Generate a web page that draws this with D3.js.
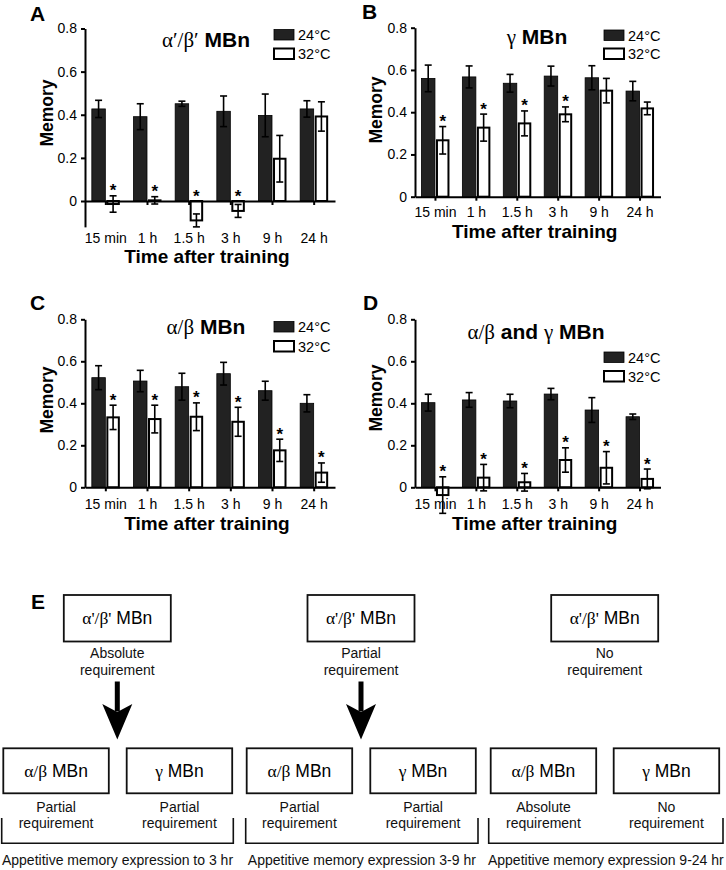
<!DOCTYPE html>
<html><head><meta charset="utf-8">
<script src="https://cdn.jsdelivr.net/npm/d3@7"></script>
<style>body{margin:0;background:#fff} svg{display:block}</style>
</head><body>
<svg id="fig" width="726" height="870"></svg>
<script>
// ---------- DATA ----------
const categories = ['15 min', '1 h', '1.5 h', '3 h', '9 h', '24 h'];
const seriesNames = ['24°C', '32°C'];
const yTicks = [0, 0.2, 0.4, 0.6, 0.8];

// Panel A: α′/β′ MBn
const aMean24 = [0.427, 0.391, 0.451, 0.416, 0.397, 0.427];
const aErr24  = [0.040, 0.060, 0.012, 0.071, 0.099, 0.038];
const aMean32 = [-0.014, 0.003, -0.090, -0.046, 0.196, 0.392];
const aErr32  = [0.038, 0.017, 0.030, 0.030, 0.108, 0.068];
const aSig    = [1, 1, 1, 1, 0, 0];

// Panel B: γ MBn
const bMean24 = [0.560, 0.567, 0.537, 0.571, 0.563, 0.500];
const bErr24  = [0.063, 0.052, 0.042, 0.047, 0.057, 0.046];
const bMean32 = [0.267, 0.327, 0.347, 0.390, 0.502, 0.418];
const bErr32  = [0.065, 0.064, 0.059, 0.035, 0.058, 0.030];
const bSig    = [1, 1, 1, 1, 0, 0];

// Panel C: α/β MBn
const cMean24 = [0.522, 0.506, 0.479, 0.541, 0.460, 0.400];
const cErr24  = [0.057, 0.051, 0.064, 0.054, 0.045, 0.041];
const cMean32 = [0.333, 0.325, 0.336, 0.312, 0.176, 0.070];
const cErr32  = [0.058, 0.066, 0.066, 0.069, 0.053, 0.046];
const cSig    = [1, 1, 1, 1, 1, 1];

// Panel D: α/β and γ MBn
const dMean24 = [0.403, 0.416, 0.411, 0.444, 0.368, 0.336];
const dErr24  = [0.040, 0.035, 0.032, 0.027, 0.059, 0.013];
const dMean32 = [-0.037, 0.046, 0.024, 0.130, 0.093, 0.040];
const dErr32  = [0.087, 0.063, 0.042, 0.058, 0.077, 0.047];
const dSig    = [1, 1, 1, 1, 1, 1];

// Panel E texts
const eTopNames = ["α'/β' MBn", "α'/β' MBn", "α'/β' MBn"];
const eTopLabels = [['Absolute', 'requirement'], ['Partial', 'requirement'], ['No', 'requirement']];
const eBottomNames = ['α/β MBn', 'γ MBn', 'α/β MBn', 'γ MBn', 'α/β MBn', 'γ MBn'];
const eBottomLabels = [['Partial', 'requirement'], ['Partial', 'requirement'], ['Partial', 'requirement'],
                       ['Partial', 'requirement'], ['Absolute', 'requirement'], ['No', 'requirement']];
const eBracketTexts = ['Appetitive memory expression to 3 hr', 'Appetitive memory expression 3-9 hr',
                       'Appetitive memory expression 9-24 hr'];
const eArrows = [0, 1]; // top boxes with an arrow

// ---------- STYLE ----------
const SANS = '"Liberation Sans", Arial, Helvetica, sans-serif';
const SERIF = '"Liberation Serif", "Times New Roman", serif';
const DARK = '#222';

const svg = d3.select('#fig');

function drawPanel(cfg, mean24, err24, mean32, err32, sig) {
  const g = svg.append('g');
  const x = d3.scaleBand().domain(categories).range([cfg.x0, cfg.x1]);
  const xi = d3.scaleBand().domain(seriesNames).range([-14, 14]).paddingInner(0.07);
  const y = d3.scaleLinear().domain([0, 0.8]).range([cfg.yZero, cfg.yTop]);
  const yMin = cfg.yMin;
  const yAx = d3.scaleLinear().domain([yMin, 0.8]).range([y(yMin), y(0.8)]);

  // y axis
  const ya = g.append('g').attr('transform', `translate(${cfg.x0},0)`)
    .call(d3.axisLeft(yAx).tickValues(yTicks).tickSize(4).tickSizeOuter(0).tickPadding(4)
      .tickFormat(d => d === 0 ? '0' : d3.format('.1f')(d)));
  ya.attr('font-size', 14).attr('font-family', SANS);
  ya.selectAll('path,line').attr('stroke', '#000').attr('stroke-width', 2);
  ya.selectAll('text').attr('fill', '#000');

  const rows = categories.map((c, i) => ({
    cat: c, sig: sig[i],
    vals: [{ s: seriesNames[0], m: mean24[i], e: err24[i] }, { s: seriesNames[1], m: mean32[i], e: err32[i] }]
  }));

  const grp = g.selectAll('g.grp').data(rows).join('g').attr('class', 'grp')
    .attr('transform', d => `translate(${x(d.cat) + x.bandwidth() / 2},0)`);

  const bars = grp.selectAll('g.bar').data(d => d.vals).join('g').attr('class', 'bar');
  bars.append('rect')
    .attr('x', d => xi(d.s) + (d.s === seriesNames[1] ? 1 : 0))
    .attr('width', d => xi.bandwidth() - (d.s === seriesNames[1] ? 2 : 0))
    .attr('y', d => y(Math.max(d.m, 0)))
    .attr('height', d => Math.abs(y(d.m) - y(0)))
    .attr('fill', d => d.s === seriesNames[0] ? DARK : '#fff')
    .attr('stroke', '#000')
    .attr('stroke-width', d => d.s === seriesNames[0] ? 0.8 : 2);

  // error bars
  const cx = d => xi(d.s) + xi.bandwidth() / 2;
  bars.append('line').attr('x1', cx).attr('x2', cx)
    .attr('y1', d => y(d.m - d.e)).attr('y2', d => y(d.m + d.e))
    .attr('stroke', '#000').attr('stroke-width', 1.6);
  [1, -1].forEach(sgn => {
    bars.append('line').attr('x1', d => cx(d) - 3.5).attr('x2', d => cx(d) + 3.5)
      .attr('y1', d => y(d.m + sgn * d.e)).attr('y2', d => y(d.m + sgn * d.e))
      .attr('stroke', '#000').attr('stroke-width', 1.6);
  });

  // significance stars
  grp.filter(d => d.sig).append('text')
    .attr('x', d => cx(d.vals[1]))
    .attr('y', d => Math.min(y(d.vals[1].m + d.vals[1].e), y(0)) + 0.5)
    .attr('text-anchor', 'middle').attr('font-family', SANS).attr('font-weight', 'bold')
    .attr('font-size', 17).text('*');

  // x axis line + ticks at zero
  const xa = g.append('g').attr('transform', `translate(0,${y(0)})`)
    .call(d3.axisBottom(x).tickSize(4).tickSizeOuter(0).tickFormat(''));
  xa.selectAll('path,line').attr('stroke', '#000').attr('stroke-width', 2);

  // category labels
  g.selectAll('text.cat').data(categories).join('text').attr('class', 'cat')
    .attr('x', d => x(d) + x.bandwidth() / 2).attr('y', cfg.labelY)
    .attr('text-anchor', 'middle').attr('font-family', SANS).attr('font-size', 14).text(d => d);

  // axis titles
  g.append('text').attr('x', (cfg.x0 + cfg.x1) / 2 - 3).attr('y', cfg.xTitleY)
    .attr('text-anchor', 'middle').attr('font-family', SANS).attr('font-weight', 'bold')
    .attr('font-size', 19).text('Time after training');
  g.append('text').attr('transform', `translate(${cfg.memX},${cfg.memY}) rotate(-90)`)
    .attr('text-anchor', 'middle').attr('dominant-baseline', 'central')
    .attr('font-family', SANS).attr('font-weight', 'bold').attr('font-size', 17.5).text('Memory');

  // panel letter
  g.append('text').attr('x', cfg.letterX).attr('y', cfg.letterY)
    .attr('font-family', SANS).attr('font-weight', 'bold').attr('font-size', 21).text(cfg.letter);

  // title
  const t = g.append('text').attr('x', cfg.titleX).attr('y', cfg.titleY)
    .attr('text-anchor', 'middle').attr('font-size', 21);
  cfg.title.forEach(p => {
    t.append('tspan').attr('font-family', p[1] ? SERIF : SANS)
      .attr('font-weight', p[1] ? 'normal' : 'bold').text(p[0]);
  });

  // legend
  seriesNames.forEach((s, i) => {
    g.append('rect').attr('x', cfg.legX).attr('y', cfg.legY[i]).attr('width', 20).attr('height', 10.5)
      .attr('fill', i === 0 ? DARK : '#fff').attr('stroke', '#000').attr('stroke-width', i === 0 ? 0.8 : 2);
    g.append('text').attr('x', cfg.legX + 24).attr('y', cfg.legY[i] + 5.5)
      .attr('dominant-baseline', 'central').attr('font-family', SANS).attr('font-size', 14.5).text(s);
  });
}

drawPanel({ x0: 85, x1: 335, yZero: 201, yTop: 28.5, yMin: -0.12, labelY: 242.5, xTitleY: 263,
  memX: 47, memY: 113, letter: 'A', letterX: 30, letterY: 21, titleX: 206, titleY: 46.5,
  title: [['α′/β′', 1], [' MBn', 0]], legX: 274, legY: [29.5, 48.5] },
  aMean24, aErr24, aMean32, aErr32, aSig);

drawPanel({ x0: 415, x1: 660.5, yZero: 196.7, yTop: 27.7, yMin: 0, labelY: 216.5, xTitleY: 238,
  memX: 376, memY: 110, letter: 'B', letterX: 362, letterY: 18.5, titleX: 537, titleY: 43.5,
  title: [['γ', 1], [' MBn', 0]], legX: 604, legY: [30, 48.5] },
  bMean24, bErr24, bMean32, bErr32, bSig);

drawPanel({ x0: 85, x1: 335, yZero: 487.3, yTop: 319.3, yMin: 0, labelY: 509, xTitleY: 530,
  memX: 47, memY: 400, letter: 'C', letterX: 30, letterY: 310, titleX: 206, titleY: 333.5,
  title: [['α/β', 1], [' MBn', 0]], legX: 274, legY: [321.5, 341] },
  cMean24, cErr24, cMean32, cErr32, cSig);

drawPanel({ x0: 415, x1: 660.5, yZero: 487.3, yTop: 319.3, yMin: 0, labelY: 509, xTitleY: 530,
  memX: 376, memY: 398, letter: 'D', letterX: 363, letterY: 310, titleX: 536, titleY: 338.5,
  title: [['α/β', 1], [' and ', 0], ['γ', 1], [' MBn', 0]], legX: 604, legY: [352, 371] },
  dMean24, dErr24, dMean32, dErr32, dSig);

// ---------- PANEL E (schematic) ----------
const E = {
  topCx: [117.3, 361, 604.7], topY: 595, topW: 107, topH: 46.5,
  botX: [3.3, 126.7, 246.7, 370.3, 490.7, 613.7], botY: 748.3, botW: 105.5, botH: 45,
  brackets: [[1.7, 233.3], [245.7, 478], [488.7, 723]], brTop: 818, brBot: 843.3
};
const ge = svg.append('g');
ge.append('text').attr('x', 31).attr('y', 609).attr('font-family', SANS).attr('font-weight', 'bold')
  .attr('font-size', 21).text('E');

function boxText(g, cx, cy, name) {
  const parts = name.split(' ');
  const t = g.append('text').attr('x', cx).attr('y', cy).attr('text-anchor', 'middle')
    .attr('dominant-baseline', 'central').attr('font-size', 17.5);
  t.append('tspan').attr('font-family', SERIF).text(parts[0]);
  t.append('tspan').attr('font-family', SANS).text(' ' + parts[1]);
}
function twoLines(g, cx, y1, lines) {
  lines.forEach((l, i) => g.append('text').attr('x', cx).attr('y', y1 + i * 16.8)
    .attr('text-anchor', 'middle').attr('font-family', SANS).attr('font-size', 14).attr('fill', '#111').text(l));
}

eTopNames.forEach((n, i) => {
  const cx = E.topCx[i];
  ge.append('rect').attr('x', cx - E.topW / 2).attr('y', E.topY).attr('width', E.topW).attr('height', E.topH)
    .attr('fill', '#fff').attr('stroke', '#111').attr('stroke-width', 1.8);
  boxText(ge, cx, E.topY + E.topH / 2, n);
  twoLines(ge, cx, 658, eTopLabels[i]);
});

eArrows.forEach(i => {
  const cx = E.topCx[i];
  ge.append('rect').attr('x', cx - 2.5).attr('y', 681.5).attr('width', 5).attr('height', 30).attr('fill', '#000');
  ge.append('path').attr('d', `M${cx - 15},704 L${cx},712 L${cx + 15},704 L${cx},739.5 Z`).attr('fill', '#000');
});

eBottomNames.forEach((n, i) => {
  const x0 = E.botX[i];
  ge.append('rect').attr('x', x0).attr('y', E.botY).attr('width', E.botW).attr('height', E.botH)
    .attr('fill', '#fff').attr('stroke', '#111').attr('stroke-width', 1.8);
  boxText(ge, x0 + E.botW / 2, E.botY + E.botH / 2 + 0.5, n);
  twoLines(ge, x0 + E.botW / 2, 811.5, eBottomLabels[i]);
});

E.brackets.forEach((b, i) => {
  ge.append('path').attr('d', `M${b[0]},${E.brTop} V${E.brBot} H${b[1]} V${E.brTop}`)
    .attr('fill', 'none').attr('stroke', '#111').attr('stroke-width', 1.6);
  ge.append('text').attr('x', (b[0] + b[1]) / 2).attr('y', 865).attr('text-anchor', 'middle')
    .attr('font-family', SANS).attr('font-size', 14).attr('fill', '#111').text(eBracketTexts[i]);
});
</script>
</body></html>
